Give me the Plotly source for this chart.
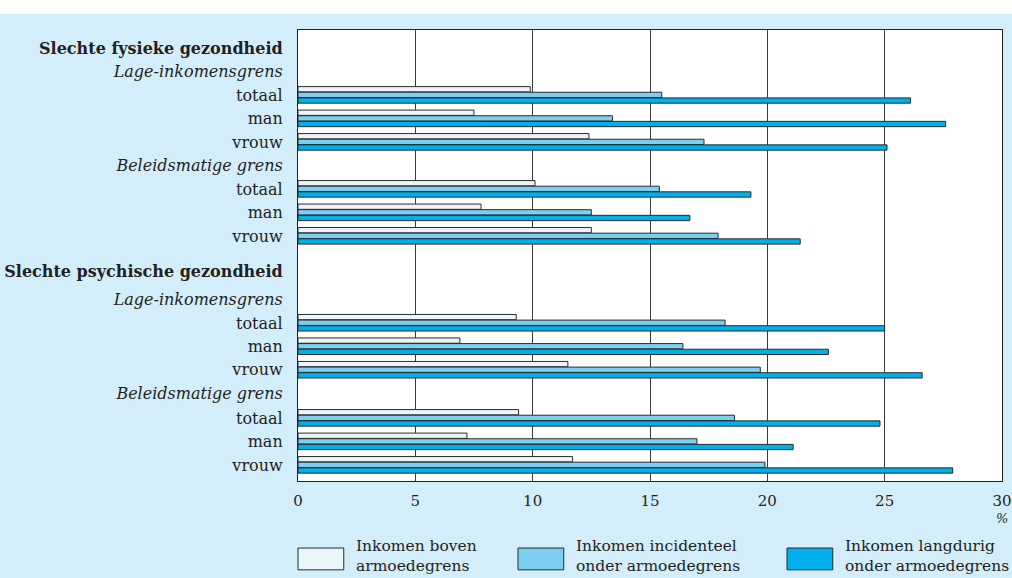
import plotly.graph_objects as go

# ---------------- data ----------------
row_labels = [
    "<b>Slechte fysieke gezondheid</b>", "<i>Lage-inkomensgrens</i>", "totaal", "man", "vrouw",
    "<i>Beleidsmatige grens</i>", "totaal", "man", "vrouw",
    "<b>Slechte psychische gezondheid</b>", "<i>Lage-inkomensgrens</i>", "totaal", "man", "vrouw",
    "<i>Beleidsmatige grens</i>", "totaal", "man", "vrouw",
]
# rows that carry bars (index into row_labels)
bar_rows = [2, 3, 4, 6, 7, 8, 11, 12, 13, 15, 16, 17]

series_names = ["Inkomen boven armoedegrens",
                "Inkomen incidenteel onder armoedegrens",
                "Inkomen langdurig onder armoedegrens"]
legend_lines = ["Inkomen boven<br>armoedegrens",
                "Inkomen incidenteel<br>onder armoedegrens",
                "Inkomen langdurig<br>onder armoedegrens"]

boven = [9.9, 7.5, 12.4, 10.1, 7.8, 12.5, 9.3, 6.9, 11.5, 9.4, 7.2, 11.7]
incidenteel = [15.5, 13.4, 17.3, 15.4, 12.5, 17.9, 18.2, 16.4, 19.7, 18.6, 17.0, 19.9]
langdurig = [26.1, 27.6, 25.1, 19.3, 16.7, 21.4, 25.0, 22.6, 26.6, 24.8, 21.1, 27.9]

x_ticks = [0, 5, 10, 15, 20, 25, 30]

# ---------------- layout constants ----------------
slot = [0, 1, 2, 3, 4, 5, 6, 7, 8, 9.5, 10.7, 11.7, 12.7, 13.7, 14.7, 15.75, 16.75, 17.75]
bar_y = [slot[i] for i in bar_rows]
colors = ["#EAF6FC", "#7DCFF2", "#00B0EC"]
bw = 0.225
offsets = [-0.36, -0.12, 0.12]
FONT = "DejaVu Serif"

fig = go.Figure()
for vals, name, col, off in zip([boven, incidenteel, langdurig], series_names, colors, offsets):
    fig.add_trace(go.Bar(
        x=vals, y=bar_y, orientation="h", name=name,
        marker=dict(color=col, line=dict(color="#2b2b2b", width=1)),
        width=bw, offset=off, showlegend=False,
    ))

fig.update_layout(
    width=1012, height=578,
    margin=dict(l=298, r=10, t=30, b=97),
    paper_bgcolor="#D3EDFA", plot_bgcolor="white",
    barmode="overlay",
    font=dict(family=FONT, size=16, color="#231f20"),
    xaxis=dict(range=[0, 30], tickvals=x_ticks, ticktext=[str(t) for t in x_ticks],
               showgrid=True, gridcolor="#3a3a3a", gridwidth=1,
               zeroline=False, showline=True, linecolor="#231f20", linewidth=1.2,
               mirror=True, ticks="", ticklen=0, fixedrange=True, automargin=False,
               ticklabelstandoff=6, tickfont=dict(size=15)),
    yaxis=dict(range=[18.43, -0.77], tickvals=slot, ticktext=row_labels,
               showgrid=False, zeroline=False, showline=True, linecolor="#231f20",
               linewidth=1.2, mirror=True, ticks="", ticklabelstandoff=11,
               automargin=False),
)

# white strip at top of page
fig.add_shape(type="rect", xref="paper", yref="paper", x0=-1, x1=2, y0=1.0355, y1=1.2,
              fillcolor="white", line=dict(width=0), layer="below")

fig.add_annotation(x=30, y=-0.083, xref="x", yref="paper", text="<i>%</i>", showarrow=False,
                   xanchor="center", yanchor="middle", font=dict(size=13))

# custom legend
box_x = [0.0, 0.3125, 0.6946]
for bx, col, txt in zip(box_x, colors, legend_lines):
    fig.add_shape(type="rect", xref="paper", yref="paper", x0=bx, x1=bx + 0.065,
                  y0=-0.197, y1=-0.1486, fillcolor=col, line=dict(color="#2b2b2b", width=1))
    fig.add_annotation(x=bx + 0.079, y=-0.166, xref="paper", yref="paper", text=txt,
                       showarrow=False, xanchor="left", yanchor="middle", align="left",
                       font=dict(size=15.5))

fig.write_html("out.html", config={"displayModeBar": False},
               post_script="document.body.style.margin='0';")
